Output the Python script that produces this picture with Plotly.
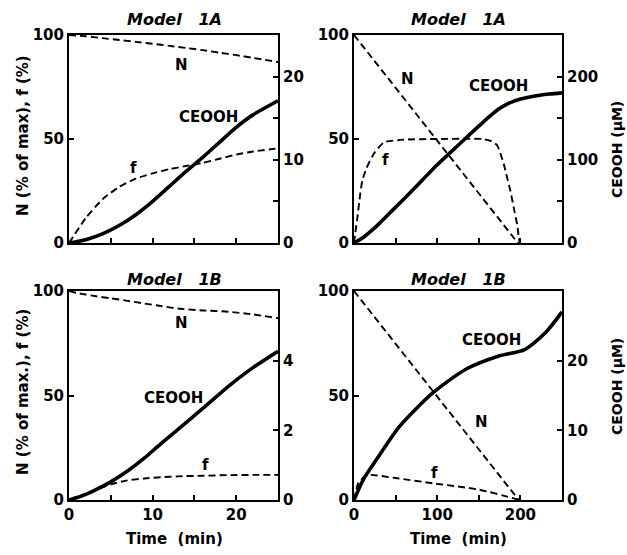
import plotly.graph_objects as go

# ---------------- data ----------------
# Model 1A, short time (min)
t_1a_short = [0, 2, 4, 6, 8, 10, 12, 14, 16, 18, 20, 22, 25]
N_1a_short = [100, 99.4, 98.5, 97.6, 96.7, 95.8, 94.8, 93.8, 92.7, 91.5, 90.3, 89.0, 87.0]
f_1a_short = [0, 12, 21, 27, 31, 33.5, 35.5, 37, 38.5, 40.5, 42.5, 44, 45.5]
C_1a_short = [0, 0.4, 1.1, 2.1, 3.4, 5.0, 6.8, 8.6, 10.3, 12.1, 13.9, 15.4, 17.1]

# Model 1A, long time (min)
t_1a_long_N = [0, 197]
N_1a_long = [100, 0]
t_1a_long_f = [0, 2, 4, 7, 10, 15, 24, 36, 60, 100, 155, 165, 172, 176, 180, 184, 188, 192, 196, 199]
f_1a_long = [0, 6, 12, 22, 30, 36, 43, 48.4, 49.7, 50, 50, 49, 47, 43, 38, 31.5, 25, 17, 9, 0]
t_1a_long_C = [0, 10, 20, 30, 48, 70, 100, 116, 130, 144, 155, 164, 174, 184, 200, 216, 235, 250]
C_1a_long = [0, 6, 14, 23, 41, 63, 94, 109, 122, 135, 145, 153, 161, 167, 173, 176.5, 179, 180.5]

# Model 1B, short time (min)
t_1b_short = [0, 1, 2, 3, 5, 7, 9, 11, 13, 16, 19, 22, 25]
N_1b_short = [100, 99, 98.3, 97.6, 96.5, 95.3, 94, 92.8, 91.6, 90.7, 90.1, 88.8, 87.0]
f_1b_short = [0, 1.5, 3, 4.5, 7.5, 9.4, 10.3, 10.9, 11.3, 11.6, 11.9, 12, 12]
C_1b_short = [0, 0.07, 0.16, 0.27, 0.52, 0.83, 1.2, 1.62, 2.02, 2.63, 3.25, 3.8, 4.27]

# Model 1B, long time (min)
t_1b_long_N = [0, 198]
N_1b_long = [100, 0]
t_1b_long_f = [0, 5, 12, 20, 50, 95, 150, 190, 198]
f_1b_long = [0, 8, 11, 12, 10.5, 8, 5, 1, 0]
t_1b_long_C = [0, 11, 27, 55, 95, 135, 175, 205, 230, 250]
C_1b_long = [0, 2.9, 5.8, 10.6, 15.4, 18.8, 20.7, 21.6, 24, 27]

# axis ticks
x_short_ticks = [0, 5, 10, 15, 20, 25]
x_short_text = ["0", "", "10", "", "20", ""]
x_long_ticks = [0, 50, 100, 150, 200, 250]
x_long_text = ["0", "", "100", "", "200", ""]
y_left_ticks = [0, 50, 100]
y_left_text = ["0", "50", "100"]
r_1a_short_ticks = [0, 5, 10, 15, 20, 25]
r_1a_short_text = ["0", "", "10", "", "20", ""]
r_1a_long_ticks = [0, 50, 100, 150, 200, 250]
r_1a_long_text = ["0", "", "100", "", "200", ""]
r_1b_short_ticks = [0, 2, 4, 6]
r_1b_short_text = ["0", "2", "4", ""]
r_1b_long_ticks = [0, 10, 20, 30]
r_1b_long_text = ["0", "10", "20", ""]

FONT = "DejaVu Sans, Liberation Sans, Arial, sans-serif"
FS = 15
W, H = 627, 555

fig = go.Figure()

dash = "7px,4px"

def add_panel(xa, yl, yr, tN, N, tf, f, tC, C):
    fig.add_trace(go.Scatter(x=tN, y=N, mode="lines", xaxis=xa, yaxis=yl,
                             line=dict(color="black", width=1.9, dash=dash, shape="spline", smoothing=0.6),
                             showlegend=False, hoverinfo="skip"))
    fig.add_trace(go.Scatter(x=tf, y=f, mode="lines", xaxis=xa, yaxis=yl,
                             line=dict(color="black", width=1.9, dash=dash, shape="spline", smoothing=0.5),
                             showlegend=False, hoverinfo="skip"))
    fig.add_trace(go.Scatter(x=tC, y=C, mode="lines", xaxis=xa, yaxis=yr,
                             line=dict(color="black", width=3.6, shape="spline", smoothing=0.7),
                             showlegend=False, hoverinfo="skip"))

add_panel("x", "y", "y2", t_1a_short, N_1a_short, t_1a_short, f_1a_short, t_1a_short, C_1a_short)
add_panel("x2", "y3", "y4", t_1a_long_N, N_1a_long, t_1a_long_f, f_1a_long, t_1a_long_C, C_1a_long)
add_panel("x3", "y5", "y6", t_1b_short, N_1b_short, t_1b_short, f_1b_short, t_1b_short, C_1b_short)
add_panel("x4", "y7", "y8", t_1b_long_N, N_1b_long, t_1b_long_f, f_1b_long, t_1b_long_C, C_1b_long)

# domains from pixel positions
def xd(a, b):
    return [a / W, b / W]

def yd(top, bot):
    return [1 - bot / H, 1 - top / H]

colL = xd(69, 278)
colR = xd(354, 562)
rowT = yd(35, 243)
rowB = yd(291, 500)

tickfont = dict(family=FONT, size=FS, color="black", weight="bold")

def xaxis(domain, anchor, rng, tv, tt, show_labels):
    return dict(domain=domain, anchor=anchor, range=rng, tickmode="array", tickvals=tv,
                ticktext=tt if show_labels else [""] * len(tv),
                ticks="inside", ticklen=5, tickwidth=1.5, tickcolor="black",
                showline=True, linecolor="black", linewidth=2, mirror=True,
                showgrid=False, zeroline=False, tickfont=tickfont, fixedrange=True,
                automargin=False)

def yaxis(domain, anchor, rng, tv, tt, side, overlay=None):
    d = dict(domain=domain, anchor=anchor, range=rng, tickmode="array", tickvals=tv, ticktext=tt,
             ticks="inside", ticklen=5, tickwidth=1.5, tickcolor="black", side=side,
             showline=True, linecolor="black", linewidth=2,
             showgrid=False, zeroline=False, tickfont=tickfont, fixedrange=True,
             automargin=False)
    if overlay:
        d["overlaying"] = overlay
    return d

fig.update_layout(
    width=W, height=H, autosize=False,
    margin=dict(l=0, r=0, t=0, b=0),
    paper_bgcolor="white", plot_bgcolor="white",
    font=dict(family=FONT, color="black", size=FS),
    xaxis=xaxis(colL, "y", [0, 25], x_short_ticks, x_short_text, False),
    yaxis=yaxis(rowT, "x", [0, 100], y_left_ticks, y_left_text, "left"),
    yaxis2=yaxis(rowT, "x", [0, 25], r_1a_short_ticks, r_1a_short_text, "right", "y"),
    xaxis2=xaxis(colR, "y3", [0, 250], x_long_ticks, x_long_text, False),
    yaxis3=yaxis(rowT, "x2", [0, 100], y_left_ticks, y_left_text, "left"),
    yaxis4=yaxis(rowT, "x2", [0, 250], r_1a_long_ticks, r_1a_long_text, "right", "y3"),
    xaxis3=xaxis(colL, "y5", [0, 25], x_short_ticks, x_short_text, True),
    yaxis5=yaxis(rowB, "x3", [0, 100], y_left_ticks, y_left_text, "left"),
    yaxis6=yaxis(rowB, "x3", [0, 6], r_1b_short_ticks, r_1b_short_text, "right", "y5"),
    xaxis4=xaxis(colR, "y7", [0, 250], x_long_ticks, x_long_text, True),
    yaxis7=yaxis(rowB, "x4", [0, 100], y_left_ticks, y_left_text, "left"),
    yaxis8=yaxis(rowB, "x4", [0, 30], r_1b_long_ticks, r_1b_long_text, "right", "y7"),
)

ann = []

def ptext(x, y, text, size=FS, angle=0, italic=False):
    ann.append(dict(x=x / W, y=1 - y / H, xref="paper", yref="paper", text=text, showarrow=False,
                    textangle=angle,
                    font=dict(family=FONT, size=size, color="black", weight="bold",
                              style="italic" if italic else "normal"),
                    xanchor="center", yanchor="middle"))

def dtext(xa, ya, x, y, text):
    ann.append(dict(x=x, y=y, xref=xa, yref=ya, text=text, showarrow=False,
                    font=dict(family=FONT, size=FS, color="black", weight="bold"),
                    xanchor="center", yanchor="middle"))

# panel titles
ptext(174, 20, "Model &nbsp; 1A", size=16, italic=True)
ptext(458, 20, "Model &nbsp; 1A", size=16, italic=True)
ptext(174, 279, "Model &nbsp; 1B", size=16, italic=True)
ptext(458, 279, "Model &nbsp; 1B", size=16, italic=True)

# axis titles
ptext(23, 136, "N (% of max), f (%)", angle=-90)
ptext(23, 392, "N (% of max.), f (%)", angle=-90)
ptext(617, 150, "CEOOH (μM)", size=14, angle=-90)
ptext(617, 387, "CEOOH (μM)", size=14, angle=-90)
ptext(174, 539, "Time &nbsp;(min)")
ptext(458, 539, "Time &nbsp;(min)")

# curve labels (data coords, left axis)
dtext("x", "y", 13.5, 85.6, "N")
dtext("x", "y", 16.7, 60.7, "CEOOH")
dtext("x", "y", 7.7, 36, "f")
dtext("x2", "y3", 64, 79, "N")
dtext("x2", "y3", 174, 75.5, "CEOOH")
dtext("x2", "y3", 38, 40, "f")
dtext("x3", "y5", 13.5, 84.5, "N")
dtext("x3", "y5", 12.5, 48.7, "CEOOH")
dtext("x3", "y5", 16.3, 16.7, "f")
dtext("x4", "y7", 165.5, 76.6, "CEOOH")
dtext("x4", "y7", 153.5, 37.5, "N")
dtext("x4", "y7", 97, 12.8, "f")

fig.update_layout(annotations=ann)

fig.write_html("out.html",
               config={"displayModeBar": False},
               post_script="document.body.style.margin='0';document.body.style.padding='0';"
                           "document.documentElement.style.margin='0';")
